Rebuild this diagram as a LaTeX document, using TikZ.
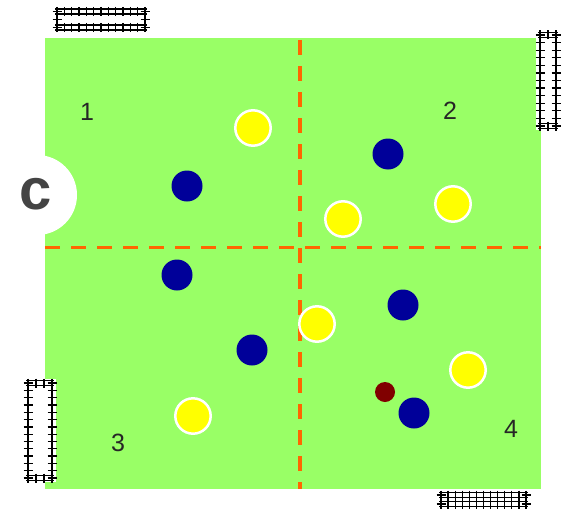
\documentclass[tikz,border=0pt]{standalone}
\usepackage{fontspec}
\setmainfont{Liberation Sans}
\usetikzlibrary{calc,positioning}
\definecolor{pitch}{RGB}{153,255,102}
\definecolor{lineorange}{RGB}{255,102,0}
\definecolor{ballyellow}{RGB}{255,255,0}
\definecolor{ballblue}{RGB}{0,0,153}
\definecolor{balldark}{RGB}{128,0,0}
\definecolor{cgray}{RGB}{68,68,68}
\newcommand{\hrail}[3]{\draw (#1-2,#3-2.5)--(#2+2,#3-2.5) (#1-2,#3+2.5)--(#2+2,#3+2.5);
  \pgfmathtruncatemacro{\nn}{round((#2-#1)/7.3)}
  \foreach \i in {0,...,\nn}{\draw ({#1+\i*(#2-#1)/\nn},#3-4.5)--++(0,9);}}
\newcommand{\vrail}[3]{\draw (#1,#2-2)--(#1,#3+2);
  \pgfmathtruncatemacro{\nn}{round((#3-#2)/7.3)}
  \foreach \i in {0,...,\nn}{\draw (#1-4.5,{#2+\i*(#3-#2)/\nn})--++(9,0);}}
\newcommand{\goal}[4]{\fill[white] (#1-4,#2-4) rectangle (#3+4,#4+4);
  \hrail{#1}{#3}{#2}\hrail{#1}{#3}{#4}\vrail{#1}{#2}{#4}\vrail{#3}{#2}{#4}}

\begin{document}
\begin{tikzpicture}[x=1pt,y=-1pt,line width=1.3pt,
  yball/.style={fill=ballyellow,draw=white,line width=2.5pt},
  bball/.style={fill=ballblue},
  halfway/.style={lineorange,line width=3.5pt,dash pattern=on 15pt off 11pt},
  zone/.style={text=black!85,font=\fontsize{25}{25}\selectfont}]
\useasboundingbox (0,0) rectangle (569,511);
\fill[pitch] (45,38) rectangle (541,489);
\fill[white] (37,195) circle (40);
\node[text=cgray,font=\fontsize{58}{58}\selectfont\bfseries] (coach) at (36,194) {c};
\coordinate (N) at (300,40);
\coordinate (S) at (300,489);
\coordinate (W) at (45,247.5);
\coordinate (E) at (541,247.5);
\draw[halfway] (N)--(S);
\draw[halfway] (W)--(E);
\node[zone] (z1) at (87,112) {1};
\node[zone] (z2) at (450,111) {2};
\node[zone] (z3) at (118,443) {3};
\node[zone] (z4) at (511,429) {4};
\goal{57}{11.5}{145}{27.5}
\goal{540}{35}{556}{126}
\goal{28}{383}{52}{478}
\goal{441}{495}{526}{504}
\foreach \p in {(253,128),(343,219),(453,204),(317,324),(468,370),(193,416)}
  \draw[yball] \p circle (17.7);
\foreach \p in {(187,186),(388,154),(177,275),(403,305),(252,350),(414,413)}
  \fill[bball] \p circle (15.5);
\fill[balldark] (385,392) circle (10);
\end{tikzpicture}
\end{document}
